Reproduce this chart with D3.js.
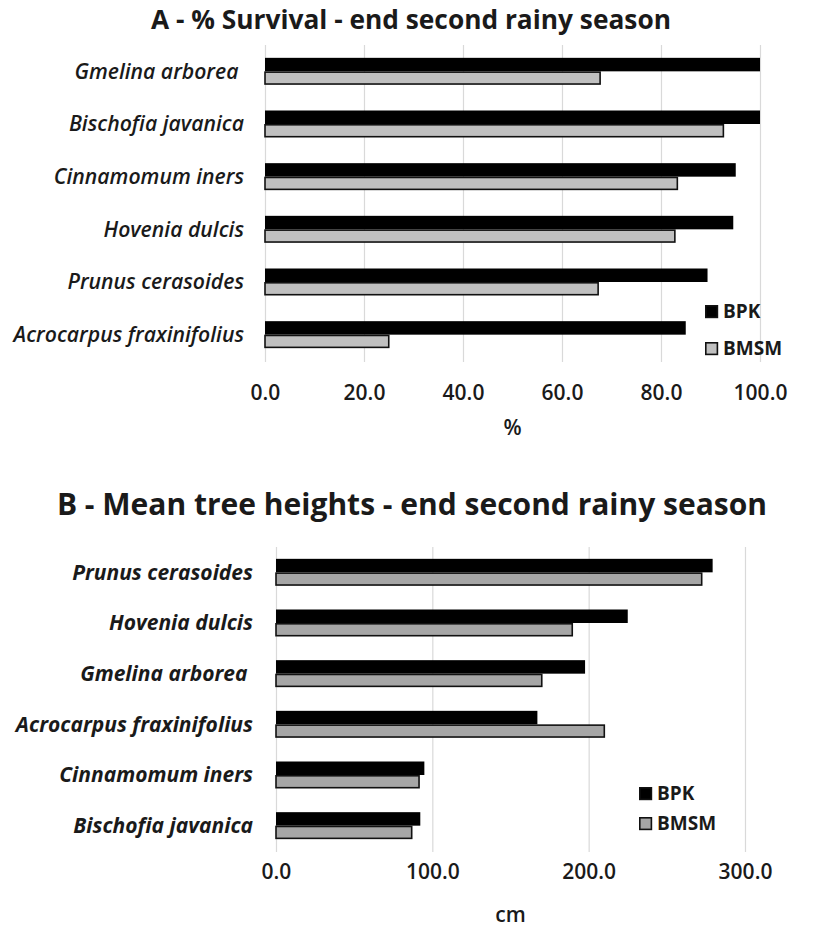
<!DOCTYPE html>
<meta charset="utf-8">
<style>
body { margin: 0; background: #fff; }
.chart text { fill: #1a1a1a; font-family: "Open Sans", "Noto Sans", sans-serif; }
.grid line { stroke: #d9d9d9; stroke-width: 1.2; }
.cat { font-style: italic; white-space: pre; }
</style>
<svg class="chart" width="827" height="929"></svg>
<script src="https://cdn.jsdelivr.net/npm/d3@7"></script>
<script>

// panel A - % survival
var survivalSpecies = ["Gmelina arborea ", "Bischofia javanica", "Cinnamomum iners",
  "Hovenia dulcis", "Prunus cerasoides", "Acrocarpus fraxinifolius"];
var survivalBPK  = [100.0, 100.0, 95.1, 94.6, 89.4, 85.0];
var survivalBMSM = [67.7, 92.6, 83.3, 82.8, 67.3, 25.0];
var survivalTicks = [0, 20, 40, 60, 80, 100];

// panel B - mean tree heights (cm)
var heightSpecies = ["Prunus cerasoides", "Hovenia dulcis", "Gmelina arborea ",
  "Acrocarpus fraxinifolius", "Cinnamomum iners", "Bischofia javanica"];
var heightBPK  = [279.3, 225.0, 197.7, 167.2, 94.9, 92.3];
var heightBMSM = [272.3, 189.5, 170.0, 210.0, 91.5, 86.8];
var heightTicks = [0, 100, 200, 300];

var seriesNames = ["BPK", "BMSM"];

var svg = d3.select(".chart");

function drawPanel(opt) {
  var x = d3.scaleLinear().domain([0, opt.max]).range([opt.left, opt.right]);
  var y = d3.scaleBand().domain(opt.species).range([opt.top, opt.bottom]);
  var barH = 13.5;

  var g = svg.append("g");

  // title
  g.append("text")
    .attr("x", opt.titleX).attr("y", opt.titleY)
    .attr("text-anchor", "middle")
    .style("font-size", opt.titleSize + "px")
    .style("font-weight", 700)
    .text(opt.title);

  // vertical gridlines
  g.append("g").attr("class", "grid")
    .selectAll("line").data(opt.ticks).enter().append("line")
    .attr("x1", function(d) { return x(d) + 0.5; })
    .attr("x2", function(d) { return x(d) + 0.5; })
    .attr("y1", opt.top).attr("y2", opt.bottom + 1);

  // bars, BPK on top, BMSM below
  var rows = g.selectAll(".row").data(opt.species).enter().append("g")
    .attr("class", "row")
    .attr("transform", function(d) {
      return "translate(0," + (y(d) + y.bandwidth() / 2) + ")";
    });

  rows.append("rect")
    .attr("x", x(0))
    .attr("y", -barH)
    .attr("width", function(d, i) { return x(opt.bpk[i]) - x(0); })
    .attr("height", barH)
    .style("fill", "#000");

  rows.append("rect")
    .attr("x", x(0))
    .attr("y", 0.8)
    .attr("width", function(d, i) { return x(opt.bmsm[i]) - x(0); })
    .attr("height", barH - 1.6)
    .style("fill", opt.gray)
    .style("stroke", "#111")
    .style("stroke-width", 1.6);

  // category labels
  rows.append("text")
    .attr("class", "cat")
    .attr("x", opt.labelX)
    .attr("dy", "0.35em")
    .attr("text-anchor", "end")
    .style("font-size", opt.labelSize + "px")
    .style("font-weight", opt.labelWeight)
    .text(function(d) { return d; });

  // x axis tick labels
  var axis = d3.axisBottom(x).tickValues(opt.ticks)
    .tickFormat(d3.format(".1f")).tickSize(0).tickPadding(0);
  var ax = g.append("g")
    .attr("transform", "translate(0," + opt.tickY + ")")
    .call(axis);
  ax.select(".domain").remove();
  ax.selectAll("text")
    .attr("dy", "0.35em")
    .attr("fill", null)
    .attr("font-family", null)
    .style("font-size", "21px")
    .style("font-weight", 600);

  g.append("text")
    .attr("x", (opt.left + opt.right) / 2)
    .attr("y", opt.unitY)
    .attr("dy", "0.35em")
    .attr("text-anchor", "middle")
    .style("font-size", "21px")
    .style("font-weight", 600)
    .text(opt.unit);

  // legend
  var leg = g.selectAll(".leg").data(seriesNames).enter().append("g")
    .attr("transform", function(d, i) {
      return "translate(" + opt.legX + "," + (opt.legY + i * opt.legStep) + ")";
    });
  leg.append("rect")
    .attr("x", 0.8).attr("y", -5.2)
    .attr("width", 11.6).attr("height", 11.6)
    .style("fill", function(d, i) { return i ? opt.gray : "#000"; })
    .style("stroke", "#111")
    .style("stroke-width", 1.6);
  leg.append("text")
    .attr("x", 18).attr("dy", "0.35em")
    .style("font-size", "19px")
    .style("font-weight", 700)
    .text(function(d) { return d; });
}

drawPanel({
  title: "A - % Survival - end second rainy season",
  titleX: 411, titleY: 29, titleSize: 26.3,
  species: survivalSpecies, bpk: survivalBPK, bmsm: survivalBMSM,
  ticks: survivalTicks, max: 100,
  left: 265, right: 760, top: 45, bottom: 361,
  gray: "#c0c0c0",
  labelX: 244, labelSize: 21.2, labelWeight: 600,
  tickY: 393, unit: "%", unitY: 428,
  legX: 705, legY: 311, legStep: 37
});

drawPanel({
  title: "B - Mean tree heights - end second rainy season",
  titleX: 412, titleY: 515, titleSize: 30,
  species: heightSpecies, bpk: heightBPK, bmsm: heightBMSM,
  ticks: heightTicks, max: 300,
  left: 276, right: 745, top: 547, bottom: 851,
  gray: "#a6a6a6",
  labelX: 253, labelSize: 21, labelWeight: 700,
  tickY: 872, unit: "cm", unitY: 915,
  legX: 639, legY: 793, legStep: 30
});

</script>
